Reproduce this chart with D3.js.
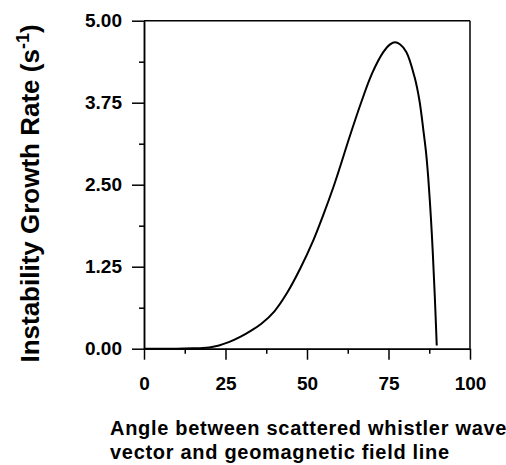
<!DOCTYPE html>
<html>
<head>
<meta charset="utf-8">
<script src="https://cdn.jsdelivr.net/npm/d3@7"></script>
<style>
  html, body { margin: 0; padding: 0; background: #fff; }
  svg { display: block; }
  text { font-family: "Liberation Sans", Arial, Helvetica, sans-serif; fill: #000; }
</style>
</head>
<body>
<svg id="chart" width="506" height="465"></svg>
<script>
// Data
const angles = [0, 10, 15, 18, 20, 23, 26, 29.5, 33, 36, 40, 44, 48, 52, 55, 58, 60, 63, 66.8, 70, 73.4, 75.5, 77, 78.5, 80.5, 83, 84.5, 85.7, 86.5, 87.2, 88, 88.6, 89.2, 89.8];
const growthRates = [0, 0, 0.005, 0.01, 0.02, 0.05, 0.10, 0.18, 0.28, 0.38, 0.57, 0.86, 1.23, 1.66, 2.04, 2.45, 2.75, 3.22, 3.78, 4.20, 4.52, 4.64, 4.67, 4.64, 4.52, 4.14, 3.78, 3.33, 3.00, 2.60, 2.00, 1.45, 0.80, 0.05];
const xTicks = [0, 25, 50, 75, 100];
const xMinorTicks = [12.5, 37.5, 62.5, 87.5];
const yTicks = [0, 1.25, 2.5, 3.75, 5.0];
const yMinorTicks = [0.625, 1.875, 3.125, 4.375];
const xTitleLines = ["Angle between scattered whistler wave", "vector and geomagnetic field line"];

(function () {
const svg = d3.select("#chart");
const pLeft = 144, pRight = 470, pTop = 20.7, pBottom = 348.7;

const x = d3.scaleLinear().domain([0, 100]).range([pLeft, pRight]);
const y = d3.scaleLinear().domain([0, 5]).range([pBottom, pTop]);

const axisStyle = g => {
  g.select(".domain").attr("stroke", "#000").attr("stroke-width", 1.5);
  g.selectAll(".tick line").attr("stroke", "#000").attr("stroke-width", 1.5);
  g.selectAll("text").attr("font-family", "Liberation Sans, Arial, sans-serif")
    .attr("font-weight", "bold").attr("font-size", 19).attr("fill", "#000");
};

// Frame: top and right
svg.append("line").attr("x1", pLeft).attr("x2", pRight).attr("y1", pTop).attr("y2", pTop)
  .attr("stroke", "#000").attr("stroke-width", 1.5);
svg.append("line").attr("x1", pRight).attr("x2", pRight).attr("y1", pTop).attr("y2", pBottom)
  .attr("stroke", "#000").attr("stroke-width", 1.5);

// X axis
svg.append("g").attr("transform", `translate(0,${pBottom})`)
  .call(d3.axisBottom(x).tickValues(xMinorTicks).tickSize(5).tickFormat("").tickSizeOuter(0))
  .call(axisStyle);
svg.append("g").attr("transform", `translate(0,${pBottom})`)
  .call(d3.axisBottom(x).tickValues(xTicks).tickSize(11).tickSizeOuter(0).tickPadding(17)
    .tickFormat(d3.format("d")))
  .call(axisStyle);

// Y axis
svg.append("g").attr("transform", `translate(${pLeft},0)`)
  .call(d3.axisLeft(y).tickValues(yMinorTicks).tickSize(5).tickFormat("").tickSizeOuter(0))
  .call(axisStyle);
svg.append("g").attr("transform", `translate(${pLeft},0)`)
  .call(d3.axisLeft(y).tickValues(yTicks).tickSize(12).tickSizeOuter(0).tickPadding(10)
    .tickFormat(d3.format(".2f")))
  .call(axisStyle);

// Curve
const pts = angles.map((a, i) => [a, growthRates[i]]);
svg.append("path").datum(pts)
  .attr("fill", "none").attr("stroke", "#000").attr("stroke-width", 2)
  .attr("stroke-linejoin", "round")
  .attr("d", d3.line().x(d => x(d[0])).y(d => y(d[1])).curve(d3.curveCatmullRom.alpha(0.5)));

// X title
const xt = svg.append("text").attr("font-weight", "bold").attr("font-size", 20)
  .attr("letter-spacing", 0.7);
xTitleLines.forEach((line, i) => {
  xt.append("tspan").attr("x", 110).attr("y", 435 + i * 24).text(line);
});

// Y title
const yt = svg.append("text")
  .attr("transform", "translate(39,193.5) rotate(-90)")
  .attr("text-anchor", "middle").attr("font-weight", "bold").attr("font-size", 26);
yt.append("tspan").text("Instability Growth Rate (s");
yt.append("tspan").attr("font-size", 18).attr("dy", -10).text("-1");
yt.append("tspan").attr("dy", 10).text(")");
})();
</script>
</body>
</html>
